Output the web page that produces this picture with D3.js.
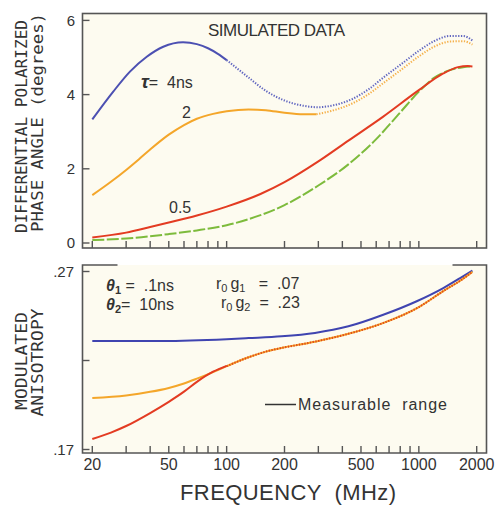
<!DOCTYPE html>
<meta charset="utf-8">
<style>
body { margin: 0; background: #fff; }
text { white-space: pre; }
.frame { fill: none; stroke: #555; stroke-width: 1.6; }
.tick { stroke: #555; stroke-width: 1.4; }
.lbl { font-family: "Liberation Sans", Arial, sans-serif; fill: #333; }
.mono { font-family: "DejaVu Sans Mono", monospace; fill: #333; }
.curve { fill: none; stroke-width: 2; }
</style>
<body>
<script src="https://d3js.org/d3.v7.min.js"></script>
<script>
// ---- data (frequency in MHz) ----
// top panel: differential polarized phase angle (degrees)
var tau4Freq   = [20, 25.7, 31.4, 38.4, 46.8, 59.3, 70, 80, 90, 100];
var tau4Val    = [3.33, 4.08, 4.62, 5.02, 5.29, 5.41, 5.36, 5.25, 5.10, 4.93];
var tau4DotFreq = [100, 115, 130, 160, 200, 250, 300, 350, 450, 550, 650, 800, 1000, 1200, 1450, 1700, 1900];
var tau4DotVal  = [4.93, 4.68, 4.46, 4.10, 3.84, 3.70, 3.66, 3.70, 3.88, 4.15, 4.45, 4.80, 5.18, 5.44, 5.58, 5.58, 5.46];

var tau2Freq   = [20, 25, 30, 35, 40, 50, 60, 70, 85, 100, 130, 160, 200, 250, 293];
var tau2Val    = [1.29, 1.65, 1.97, 2.26, 2.52, 2.92, 3.18, 3.35, 3.48, 3.55, 3.60, 3.58, 3.51, 3.47, 3.47];
var tau2DotFreq = [293, 350, 450, 550, 650, 800, 1000, 1200, 1450, 1700, 1900];
var tau2DotVal  = [3.47, 3.56, 3.76, 4.02, 4.30, 4.65, 5.03, 5.29, 5.43, 5.44, 5.35];

var tau05Freq  = [20, 30, 40, 50, 70, 100, 150, 200, 300, 430, 650, 1000, 1340, 1600, 1800, 1900];
var tau05Val   = [0.15, 0.28, 0.43, 0.55, 0.74, 0.98, 1.32, 1.64, 2.20, 2.76, 3.40, 4.12, 4.57, 4.74, 4.77, 4.76];

var greenFreq  = [20, 30, 50, 70, 100, 150, 200, 300, 430, 600, 800, 1000, 1200, 1450, 1700, 1900];
var greenVal   = [0.08, 0.12, 0.24, 0.34, 0.48, 0.75, 1.02, 1.55, 2.12, 2.80, 3.52, 4.08, 4.45, 4.66, 4.74, 4.76];

// bottom panel: modulated anisotropy
var anisBlueFreq = [20, 46.8, 100, 130, 193, 288, 430, 653, 975, 1340, 1640, 1900];
var anisBlueVal  = [0.231, 0.231, 0.232, 0.2326, 0.2336, 0.2355, 0.2392, 0.2457, 0.2533, 0.2607, 0.2663, 0.2705];

var anisOrangeFreq = [20, 30, 40, 50, 60, 70, 85, 100, 130, 160, 200, 250, 300, 430, 650, 1000, 1340, 1640, 1900];
var anisOrangeVal  = [0.1989, 0.2004, 0.2024, 0.2046, 0.2071, 0.2098, 0.2135, 0.2168, 0.2218, 0.2250, 0.2274, 0.2293, 0.2310, 0.2350, 0.2410, 0.2500, 0.2590, 0.2648, 0.2698];

var anisRedFreq = [20, 25, 30, 40, 50, 60, 70, 85, 100];
var anisRedVal  = [0.1759, 0.1795, 0.1832, 0.1905, 0.1968, 0.2025, 0.2080, 0.2137, 0.2170];

var xTicks = [20, 30, 40, 50, 60, 70, 80, 90, 100, 200, 300, 400, 500, 600, 700, 800, 900, 1000, 2000];
var xTickLabels = [20, 50, 100, 200, 500, 1000, 2000];
var topYTicks = [0, 2, 4, 6];
var botYTicks = [0.17, 0.22, 0.27];
var botYLabels = {0.17: ".17", 0.27: ".27"};

function pairs(f, v) { return f.map(function(d, i) { return [d, v[i]]; }); }

var W = 499, H = 506;
var svg = d3.select("body").append("svg").attr("width", W).attr("height", H);

var x = d3.scaleLog().domain([20, 2000]).range([92.3, 476.7]);
var yTop = d3.scaleLinear().domain([0, 6]).range([243, 20.4]);
var yBot = d3.scaleLinear().domain([0.17, 0.27]).range([449.5, 271.5]);

var L = 82.5, R = 486.5;
var topT = 13.5, topB = 248;
var botT = 265, botB = 453;

// panel backgrounds
svg.append("rect").attr("x", L).attr("y", topT).attr("width", R - L).attr("height", topB - topT).attr("fill", "#fdfbf0");
svg.append("rect").attr("x", L).attr("y", botT).attr("width", R - L).attr("height", botB - botT).attr("fill", "#fdfbf0");

// frames
svg.append("rect").attr("class", "frame").attr("x", L).attr("y", topT).attr("width", R - L).attr("height", topB - topT);
svg.append("path").attr("class", "frame")
  .attr("d", "M" + (L + 35) + "," + botT + "H" + L + "V" + botB + "H" + R + "V" + botT + "H" + (R - 34));

// ticks
function xTickMarks(bottom) {
  svg.append("g").selectAll("line").data(xTicks).enter().append("line")
    .attr("class", "tick")
    .attr("x1", function(d) { return x(d); }).attr("x2", function(d) { return x(d); })
    .attr("y1", bottom).attr("y2", bottom - 7);
}
xTickMarks(topB);
xTickMarks(botB);

svg.append("g").selectAll("line").data(topYTicks).enter().append("line")
  .attr("class", "tick").attr("x1", L).attr("x2", L + 7)
  .attr("y1", function(d) { return yTop(d); }).attr("y2", function(d) { return yTop(d); });
svg.append("g").selectAll("line").data(botYTicks).enter().append("line")
  .attr("class", "tick").attr("x1", L).attr("x2", L + 7)
  .attr("y1", function(d) { return yBot(d); }).attr("y2", function(d) { return yBot(d); });

// tick labels
svg.append("g").selectAll("text").data(topYTicks).enter().append("text")
  .attr("class", "lbl").attr("x", 75).attr("y", function(d) { return yTop(d); })
  .attr("dy", "0.36em").attr("text-anchor", "end").attr("font-size", 15)
  .text(function(d) { return d; });
svg.append("g").selectAll("text").data([0.17, 0.27]).enter().append("text")
  .attr("class", "lbl").attr("x", 74).attr("y", function(d) { return yBot(d); })
  .attr("dy", "0.36em").attr("text-anchor", "end").attr("font-size", 15)
  .text(function(d) { return botYLabels[d]; });
svg.append("g").selectAll("text").data(xTickLabels).enter().append("text")
  .attr("class", "lbl").attr("x", function(d) { return x(d); }).attr("y", 470)
  .attr("text-anchor", "middle").attr("font-size", 16)
  .text(function(d) { return d; });

// axis titles
function vText(cx, cy, len, s) {
  svg.append("text").attr("class", "mono").attr("font-size", 16.5)
    .attr("transform", "translate(" + cx + "," + cy + ") rotate(-90)")
    .attr("text-anchor", "middle").attr("dy", "0.36em")
    .attr("textLength", len).attr("lengthAdjust", "spacingAndGlyphs")
    .text(s);
}
vText(21.5, 126.5, 213, "DIFFERENTIAL POLARIZED");
vText(37.5, 122.5, 219, "PHASE ANGLE (degrees)");
vText(21, 361, 98, "MODULATED");
vText(37.5, 362.5, 108, "ANISOTROPY");

svg.append("text").attr("class", "lbl").attr("x", 180).attr("y", 500)
  .attr("font-size", 22).attr("textLength", 216).attr("lengthAdjust", "spacing")
  .text("FREQUENCY  (MHz)");

// curves
var line = function(ys) {
  return d3.line().x(function(d) { return x(d[0]); }).y(function(d) { return ys(d[1]); })
    .curve(d3.curveMonotoneX);
};
var lt = line(yTop), lb = line(yBot);

function curve(gen, data, color, dash, w) {
  svg.append("path").datum(data).attr("class", "curve")
    .attr("stroke", color).attr("stroke-width", w || 2)
    .attr("stroke-dasharray", dash || null)
    .attr("d", gen);
}

curve(lt, pairs(greenFreq, greenVal), "#7dbb3c", "12,2.5");
curve(lt, pairs(tau05Freq, tau05Val), "#e33b22");
curve(lt, pairs(tau2DotFreq, tau2DotVal), "#f5b04a", "1.3,1.5");
curve(lt, pairs(tau4DotFreq, tau4DotVal), "#6166c0", "1.3,1.5");
curve(lt, pairs(tau2Freq, tau2Val), "#f4a62a");
curve(lt, pairs(tau4Freq, tau4Val), "#4c50b2");

curve(lb, pairs(anisBlueFreq, anisBlueVal), "#3f44b0");
curve(lb, pairs(anisOrangeFreq, anisOrangeVal), "#f4a62a", null, 2.4);
curve(lb, pairs(anisRedFreq, anisRedVal), "#e33b22");
// red follows orange once merged: drawn dotted on top
curve(lb, pairs(anisOrangeFreq.slice(7), anisOrangeVal.slice(7)), "#e0451e", "1.3,1.5", 1.6);

// annotations
svg.append("text").attr("class", "lbl").attr("x", 208).attr("y", 36).attr("font-size", 17)
  .attr("textLength", 137).attr("lengthAdjust", "spacing").text("SIMULATED DATA");

var tau = svg.append("text").attr("class", "lbl").attr("x", 141).attr("y", 88).attr("font-size", 16);
tau.append("tspan").attr("font-style", "italic").attr("font-weight", "bold").attr("font-size", 19).text("τ");
tau.append("tspan").text("=  4ns");

svg.append("text").attr("class", "lbl").attr("x", 182).attr("y", 118).attr("font-size", 16).text("2");
svg.append("text").attr("class", "lbl").attr("x", 169).attr("y", 213).attr("font-size", 16).text("0.5");

var th1 = svg.append("text").attr("class", "lbl").attr("x", 106).attr("y", 291).attr("font-size", 16);
th1.append("tspan").attr("font-style", "italic").attr("font-weight", "bold").text("θ");
th1.append("tspan").attr("font-size", 11).attr("dy", 3).attr("font-weight", "bold").text("1");
th1.append("tspan").attr("dy", -3).text(" =  .1ns");

var th2 = svg.append("text").attr("class", "lbl").attr("x", 106).attr("y", 310).attr("font-size", 16);
th2.append("tspan").attr("font-style", "italic").attr("font-weight", "bold").text("θ");
th2.append("tspan").attr("font-size", 11).attr("dy", 3).attr("font-weight", "bold").text("2");
th2.append("tspan").attr("dy", -3).text("=  10ns");

var rg1 = svg.append("text").attr("class", "lbl").attr("x", 216).attr("y", 289).attr("font-size", 16);
rg1.append("tspan").text("r");
rg1.append("tspan").attr("font-size", 11).attr("dy", 3).text("0");
rg1.append("tspan").attr("dy", -3).attr("dx", 3).text("g");
rg1.append("tspan").attr("font-size", 11).attr("dy", 3).text("1");
rg1.append("tspan").attr("dy", -3).text("   =  .07");

var rg2 = svg.append("text").attr("class", "lbl").attr("x", 221).attr("y", 308).attr("font-size", 16);
rg2.append("tspan").text("r");
rg2.append("tspan").attr("font-size", 11).attr("dy", 3).text("0");
rg2.append("tspan").attr("dy", -3).attr("dx", 3).text("g");
rg2.append("tspan").attr("font-size", 11).attr("dy", 3).text("2");
rg2.append("tspan").attr("dy", -3).text("  =  .23");

// measurable range legend
svg.append("line").attr("x1", 265).attr("x2", 296).attr("y1", 404.5).attr("y2", 404.5)
  .attr("stroke", "#333").attr("stroke-width", 1.5);
svg.append("text").attr("class", "lbl").attr("x", 298).attr("y", 410).attr("font-size", 16)
  .attr("textLength", 149).attr("lengthAdjust", "spacing").text("Measurable  range");
</script>
</body>
